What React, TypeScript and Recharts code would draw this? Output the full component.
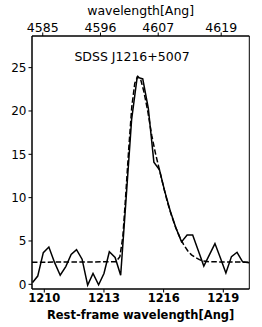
import { LineChart, Line, XAxis, YAxis, ReferenceArea } from 'recharts';

// observed spectrum (rest-frame wavelength, flux)
const restWave = [
  1209.41, 1209.67, 1209.95, 1210.23, 1210.52, 1210.8, 1211.08, 1211.35, 1211.62, 1211.9,
  1212.18, 1212.45, 1212.73, 1213.0, 1213.27, 1213.56, 1213.84, 1214.11, 1214.39, 1214.67,
  1214.95, 1215.23, 1215.51, 1215.79, 1216.06, 1216.34, 1216.62, 1216.9, 1217.18, 1217.46,
  1217.74, 1218.02, 1218.3, 1218.58, 1218.86, 1219.13, 1219.41, 1219.69, 1219.97, 1220.3,
];
const flux = [
  0.2, 0.95, 3.65, 4.3, 2.5, 1.05, 2.05, 3.45, 4.0, 2.9,
  -0.1, 1.25, -0.05, 1.25, 3.75, 3.1, 1.05, 9.8, 19.0, 23.9,
  23.7, 20.3, 14.1, 13.2, 10.7, 8.4, 6.5, 4.9, 5.7, 5.7,
  3.9, 2.1, 3.4, 4.7, 3.0, 1.3, 3.2, 3.7, 2.6, 2.5,
];

// model fit (dashed)
const modelWave = [
  1209.38, 1213.6, 1213.8, 1213.95, 1214.1, 1214.25, 1214.4, 1214.55, 1214.7, 1214.85,
  1215.0, 1215.2, 1215.4, 1215.6, 1215.8, 1216.0, 1216.2, 1216.4, 1216.6, 1216.8,
  1217.0, 1217.2, 1217.4, 1217.6, 1217.8, 1218.0, 1218.3, 1220.31,
];
const modelFlux = [
  2.55, 2.6, 3.2, 5.5, 10.5, 15.8, 20.5, 23.2, 24.0, 23.6,
  22.3, 20.0, 17.2, 15.0, 13.1, 11.2, 9.4, 7.9, 6.6, 5.5,
  4.6, 3.9, 3.4, 3.1, 2.85, 2.7, 2.6, 2.55,
];

const xTicks = [1210, 1213, 1216, 1219];
const yTicks = [0, 5, 10, 15, 20, 25];
const obsTickLabels = [4585, 4596, 4607, 4619];
const zFactor = 3.7895; // observed / rest

const xDomain = [1209.382, 1220.307];
const yDomain = [-0.54, 28.65];
const font = '"DejaVu Sans", sans-serif';

const spectrum = restWave.map((w, i) => ({ w, f: flux[i] }));
const model = modelWave.map((w, i) => ({ w, f: modelFlux[i] }));

export default function App() {
  return (
    <div style={{ position: 'relative', width: 262, height: 327, background: '#fff' }}>
      <style>{`body{margin:0}`}</style>
      <LineChart width={262} height={327} margin={{ top: 0, right: 12.7, left: 0, bottom: 0 }}>
        <XAxis
          dataKey="w"
          type="number"
          domain={xDomain}
          allowDataOverflow
          ticks={xTicks}
          height={38}
          stroke="#000"
          tickSize={3.5}
          tickMargin={1}
          tick={{ fill: '#000', fontSize: 11.5, fontWeight: 'bold', fontFamily: font }}
          label={{ value: 'Rest-frame wavelength[Ang]', position: 'insideBottom', offset: 8, fill: '#000', fontSize: 11.5, fontWeight: 'bold', fontFamily: font }}
        />
        <XAxis
          xAxisId="top"
          orientation="top"
          dataKey="w"
          type="number"
          domain={xDomain}
          allowDataOverflow
          ticks={obsTickLabels.map((v) => v / zFactor)}
          tickFormatter={(v: number) => String(Math.round(v * zFactor))}
          height={36}
          stroke="#000"
          tickSize={3.5}
          tickMargin={1}
          tick={{ fill: '#000', fontSize: 12.5, fontFamily: font }}
          label={{ value: 'wavelength[Ang]', position: 'insideTop', offset: 6, fill: '#000', fontSize: 12.5, fontFamily: font }}
        />
        <YAxis
          type="number"
          domain={yDomain}
          allowDataOverflow
          ticks={yTicks}
          width={32}
          stroke="#000"
          tickSize={3.5}
          tickMargin={2}
          tick={{ fill: '#000', fontSize: 12, fontFamily: font }}
        />
        <ReferenceArea x1={xDomain[0]} x2={xDomain[1]} y1={yDomain[0]} y2={yDomain[1]} fill="none" stroke="#000" strokeWidth={1} />
        <Line
          data={model}
          xAxisId="top"
          dataKey="f"
          type="linear"
          stroke="#000"
          strokeWidth={1.5}
          strokeDasharray="5.5 2.4"
          dot={false}
          isAnimationActive={false}
        />
        <Line
          data={spectrum}
          dataKey="f"
          type="linear"
          stroke="#000"
          strokeWidth={1.5}
          dot={false}
          isAnimationActive={false}
        />
      </LineChart>
      <div style={{ position: 'absolute', left: 0, top: 49, width: 264, textAlign: 'center', fontFamily: font, fontSize: 12.5, color: '#000', lineHeight: '16px' }}>
        SDSS J1216+5007
      </div>
    </div>
  );
}
